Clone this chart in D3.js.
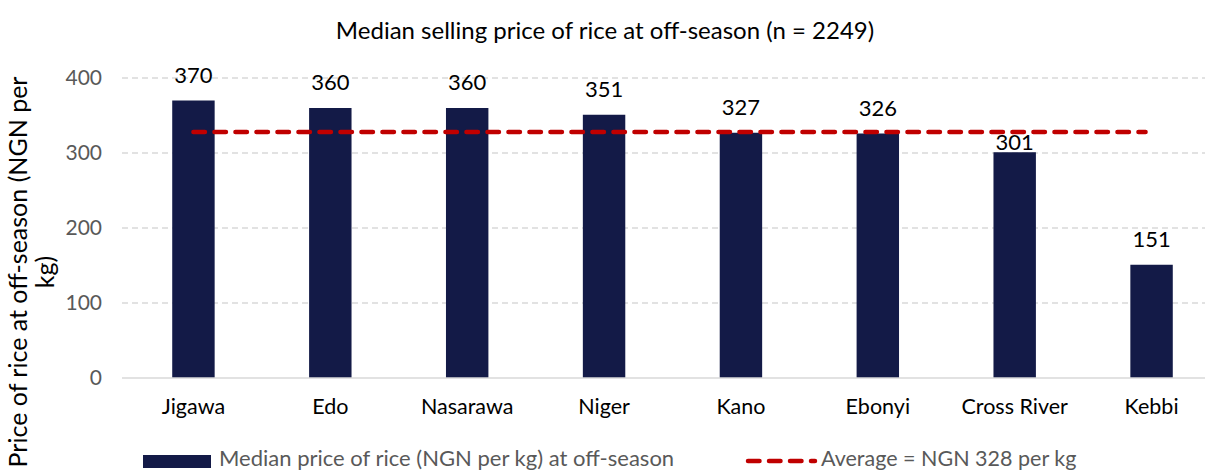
<!DOCTYPE html>
<html>
<head>
<meta charset="utf-8">
<script src="https://cdn.jsdelivr.net/npm/d3@7"></script>
<style>
  body { margin: 0; background: #fff; }
  text { font-family: Lato, "Open Sans", sans-serif; }
</style>
</head>
<body>
<div id="rootDiv"></div>
<script>
const states = ["Jigawa", "Edo", "Nasarawa", "Niger", "Kano", "Ebonyi", "Cross River", "Kebbi"]
const prices = [370, 360, 360, 351, 327, 326, 301, 151]
const average = 328
const yTicks = [0, 100, 200, 300, 400]

const barColor = "#131a47"
const avgColor = "#c00000"

const width = 1221
const height = 471

const svg = d3.select("#rootDiv")
    .append("svg")
    .attr("width", width)
    .attr("height", height)

const x = d3.scaleBand()
    .domain(states)
    .range([125, 1220])
    .paddingInner(0.69)
    .paddingOuter(0.345)

const y = d3.scaleLinear()
    .domain([0, 400])
    .range([378, 78])

// gridlines
svg.append("g")
    .selectAll("line")
    .data(yTicks.filter(d => d > 0))
    .enter()
    .append("line")
    .attr("x1", 122)
    .attr("x2", 1205)
    .attr("y1", d => y(d))
    .attr("y2", d => y(d))
    .attr("stroke", "#d9d9d9")
    .attr("stroke-width", 1.3)
    .attr("stroke-dasharray", "6,4")

// y tick labels
const yAxis = svg.append("g")
    .attr("transform", "translate(102,0)")
    .call(d3.axisLeft(y).tickValues(yTicks).tickSize(0).tickPadding(0))
yAxis.select("path").remove()
yAxis.selectAll("text")
    .style("font-family", "Lato, 'Open Sans', sans-serif")
    .style("font-size", "21px")
    .attr("fill", "#595959")

// bars
svg.selectAll("rect.bar")
    .data(prices)
    .enter()
    .append("rect")
    .attr("class", "bar")
    .attr("x", (_d, i) => x(states[i]))
    .attr("y", d => y(d))
    .attr("width", x.bandwidth())
    .attr("height", d => y(0) - y(d))
    .attr("fill", barColor)

// baseline
svg.append("line")
    .attr("x1", 122)
    .attr("x2", 1205)
    .attr("y1", y(0))
    .attr("y2", y(0))
    .attr("stroke", "#d9d9d9")
    .attr("stroke-width", 1.3)

// category labels
const xAxis = svg.append("g")
    .attr("transform", `translate(0,${y(0)})`)
    .call(d3.axisBottom(x).tickSize(0).tickPadding(21))
xAxis.select("path").remove()
xAxis.selectAll("text")
    .style("font-family", "Lato, 'Open Sans', sans-serif")
    .style("font-size", "21.5px")
    .attr("fill", "#000")

// value labels (the Cross River one sits close to its bar, as in the source)
const labelGap = (_d, i) => states[i] === "Cross River" ? 2 : 18
svg.selectAll("text.label")
    .data(prices)
    .enter()
    .append("text")
    .attr("class", "label")
    .attr("text-anchor", "middle")
    .attr("x", (_d, i) => x(states[i]) + x.bandwidth() / 2)
    .attr("y", (d, i) => y(d) - labelGap(d, i))
    .attr("font-size", "22px")
    .attr("fill", "#000")
    .text(d => d)

// average line
const first = x(states[0]) + x.bandwidth() / 2
const last = x(states[states.length - 1]) + x.bandwidth() / 2 - 6
svg.append("line")
    .attr("x1", first)
    .attr("x2", last)
    .attr("y1", y(average))
    .attr("y2", y(average))
    .attr("stroke", avgColor)
    .attr("stroke-width", 4.5)
    .attr("stroke-linecap", "round")
    .attr("stroke-dasharray", "11.5,9.5")

// title
svg.append("text")
    .attr("x", 605)
    .attr("y", 39)
    .attr("text-anchor", "middle")
    .attr("font-size", "24px")
    .attr("fill", "#000")
    .text("Median selling price of rice at off-season (n = 2249)")

// y axis title
const yTitle = svg.append("text")
    .attr("transform", "translate(0,272) rotate(-90)")
    .attr("text-anchor", "middle")
    .attr("font-size", "25px")
    .attr("fill", "#000")
yTitle.append("tspan").attr("x", 0).attr("y", 27).text("Price of rice at off-season (NGN per")
yTitle.append("tspan").attr("x", 0).attr("y", 54).text("kg)")

// legend
svg.append("rect")
    .attr("x", 143)
    .attr("y", 455)
    .attr("width", 68)
    .attr("height", 13)
    .attr("fill", barColor)
svg.append("text")
    .attr("x", 219)
    .attr("y", 466)
    .attr("font-size", "22px")
    .attr("fill", "#595959")
    .text("Median price of rice (NGN per kg) at off-season")

svg.append("line")
    .attr("x1", 748)
    .attr("x2", 815)
    .attr("y1", 461)
    .attr("y2", 461)
    .attr("stroke", avgColor)
    .attr("stroke-width", 4.5)
    .attr("stroke-linecap", "round")
    .attr("stroke-dasharray", "11.5,9.5")
svg.append("text")
    .attr("x", 821)
    .attr("y", 466)
    .attr("font-size", "21.5px")
    .attr("fill", "#595959")
    .text("Average = NGN 328 per kg")
</script>
</body>
</html>
